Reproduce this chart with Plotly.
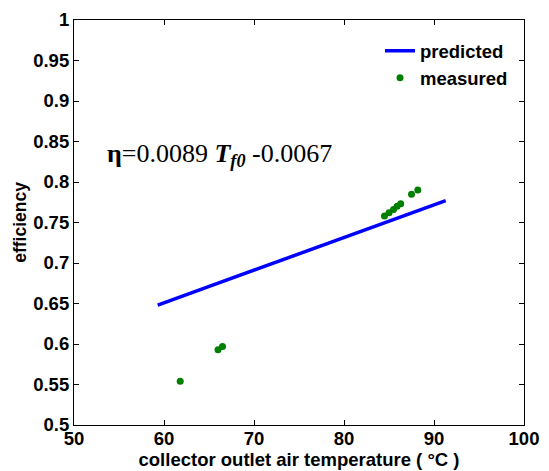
import plotly.graph_objects as go

# predicted line (end points)
pred_x = [59.3, 91.3]
pred_y = [0.648, 0.777]

# measured points
meas_x = [61.8, 66.0, 66.5, 84.5, 85.0, 85.5, 85.9, 86.3, 87.5, 88.2]
meas_y = [0.554, 0.593, 0.597, 0.758, 0.762, 0.766, 0.770, 0.773, 0.785, 0.790]

x_ticks = [50, 60, 70, 80, 90, 100]
y_ticks = [0.5, 0.55, 0.6, 0.65, 0.7, 0.75, 0.8, 0.85, 0.9, 0.95, 1.0]
y_labels = ["0.5", "0.55", "0.6", "0.65", "0.7", "0.75", "0.8", "0.85", "0.9", "0.95", "1"]

FONT = "Liberation Sans"
FS = 18.5

fig = go.Figure()
fig.add_trace(go.Scatter(x=pred_x, y=pred_y, mode="lines", name="predicted",
                         line=dict(color="#0000ff", width=3.5)))
fig.add_trace(go.Scatter(x=meas_x, y=meas_y, mode="markers", name="measured",
                         marker=dict(color="#008000", size=7)))

axis_common = dict(showline=True, linecolor="black", linewidth=1.2, mirror="ticks",
                   ticks="inside", ticklen=5, tickcolor="black", showgrid=False,
                   zeroline=False, automargin=False,
                   tickfont=dict(family=FONT, size=FS, color="black", weight="bold"))

fig.update_xaxes(range=[50, 100], tickvals=x_ticks, ticktext=[str(v) for v in x_ticks],
                 ticklabelstandoff=-3,
                 title=dict(text="collector outlet air temperature ( °C )",
                            font=dict(family=FONT, size=FS, color="black", weight="bold"),
                            standoff=0),
                 **axis_common)
fig.update_yaxes(range=[0.5, 1.0], tickvals=y_ticks, ticktext=y_labels,
                 title=dict(text="efficiency",
                            font=dict(family=FONT, size=FS - 1, color="black", weight="bold"),
                            standoff=2),
                 **axis_common)

fig.add_annotation(x=53.4, y=0.833, xref="x", yref="y", xanchor="left", yanchor="middle",
                   showarrow=False,
                   text="<b>η</b>=0.0089 <b><i>T<sub>f0</sub></i></b> -0.0067",
                   font=dict(family="Liberation Serif", size=26, color="black"))

# the page body adds an 8px offset; the figure is sized so the plot box lands at
# x 74..524 and y 20..425 of the 549x471 window
fig.update_layout(width=541, height=463, margin=dict(l=66, r=25, t=12, b=46),
                  plot_bgcolor="white", paper_bgcolor="white",
                  legend=dict(x=0.68, y=0.97, xanchor="left", yanchor="top",
                              bgcolor="rgba(0,0,0,0)", borderwidth=0,
                              font=dict(family=FONT, size=FS, color="black", weight="bold"),
                              tracegroupgap=0, itemwidth=30),
                  showlegend=True)

fig.write_html("out.html")
